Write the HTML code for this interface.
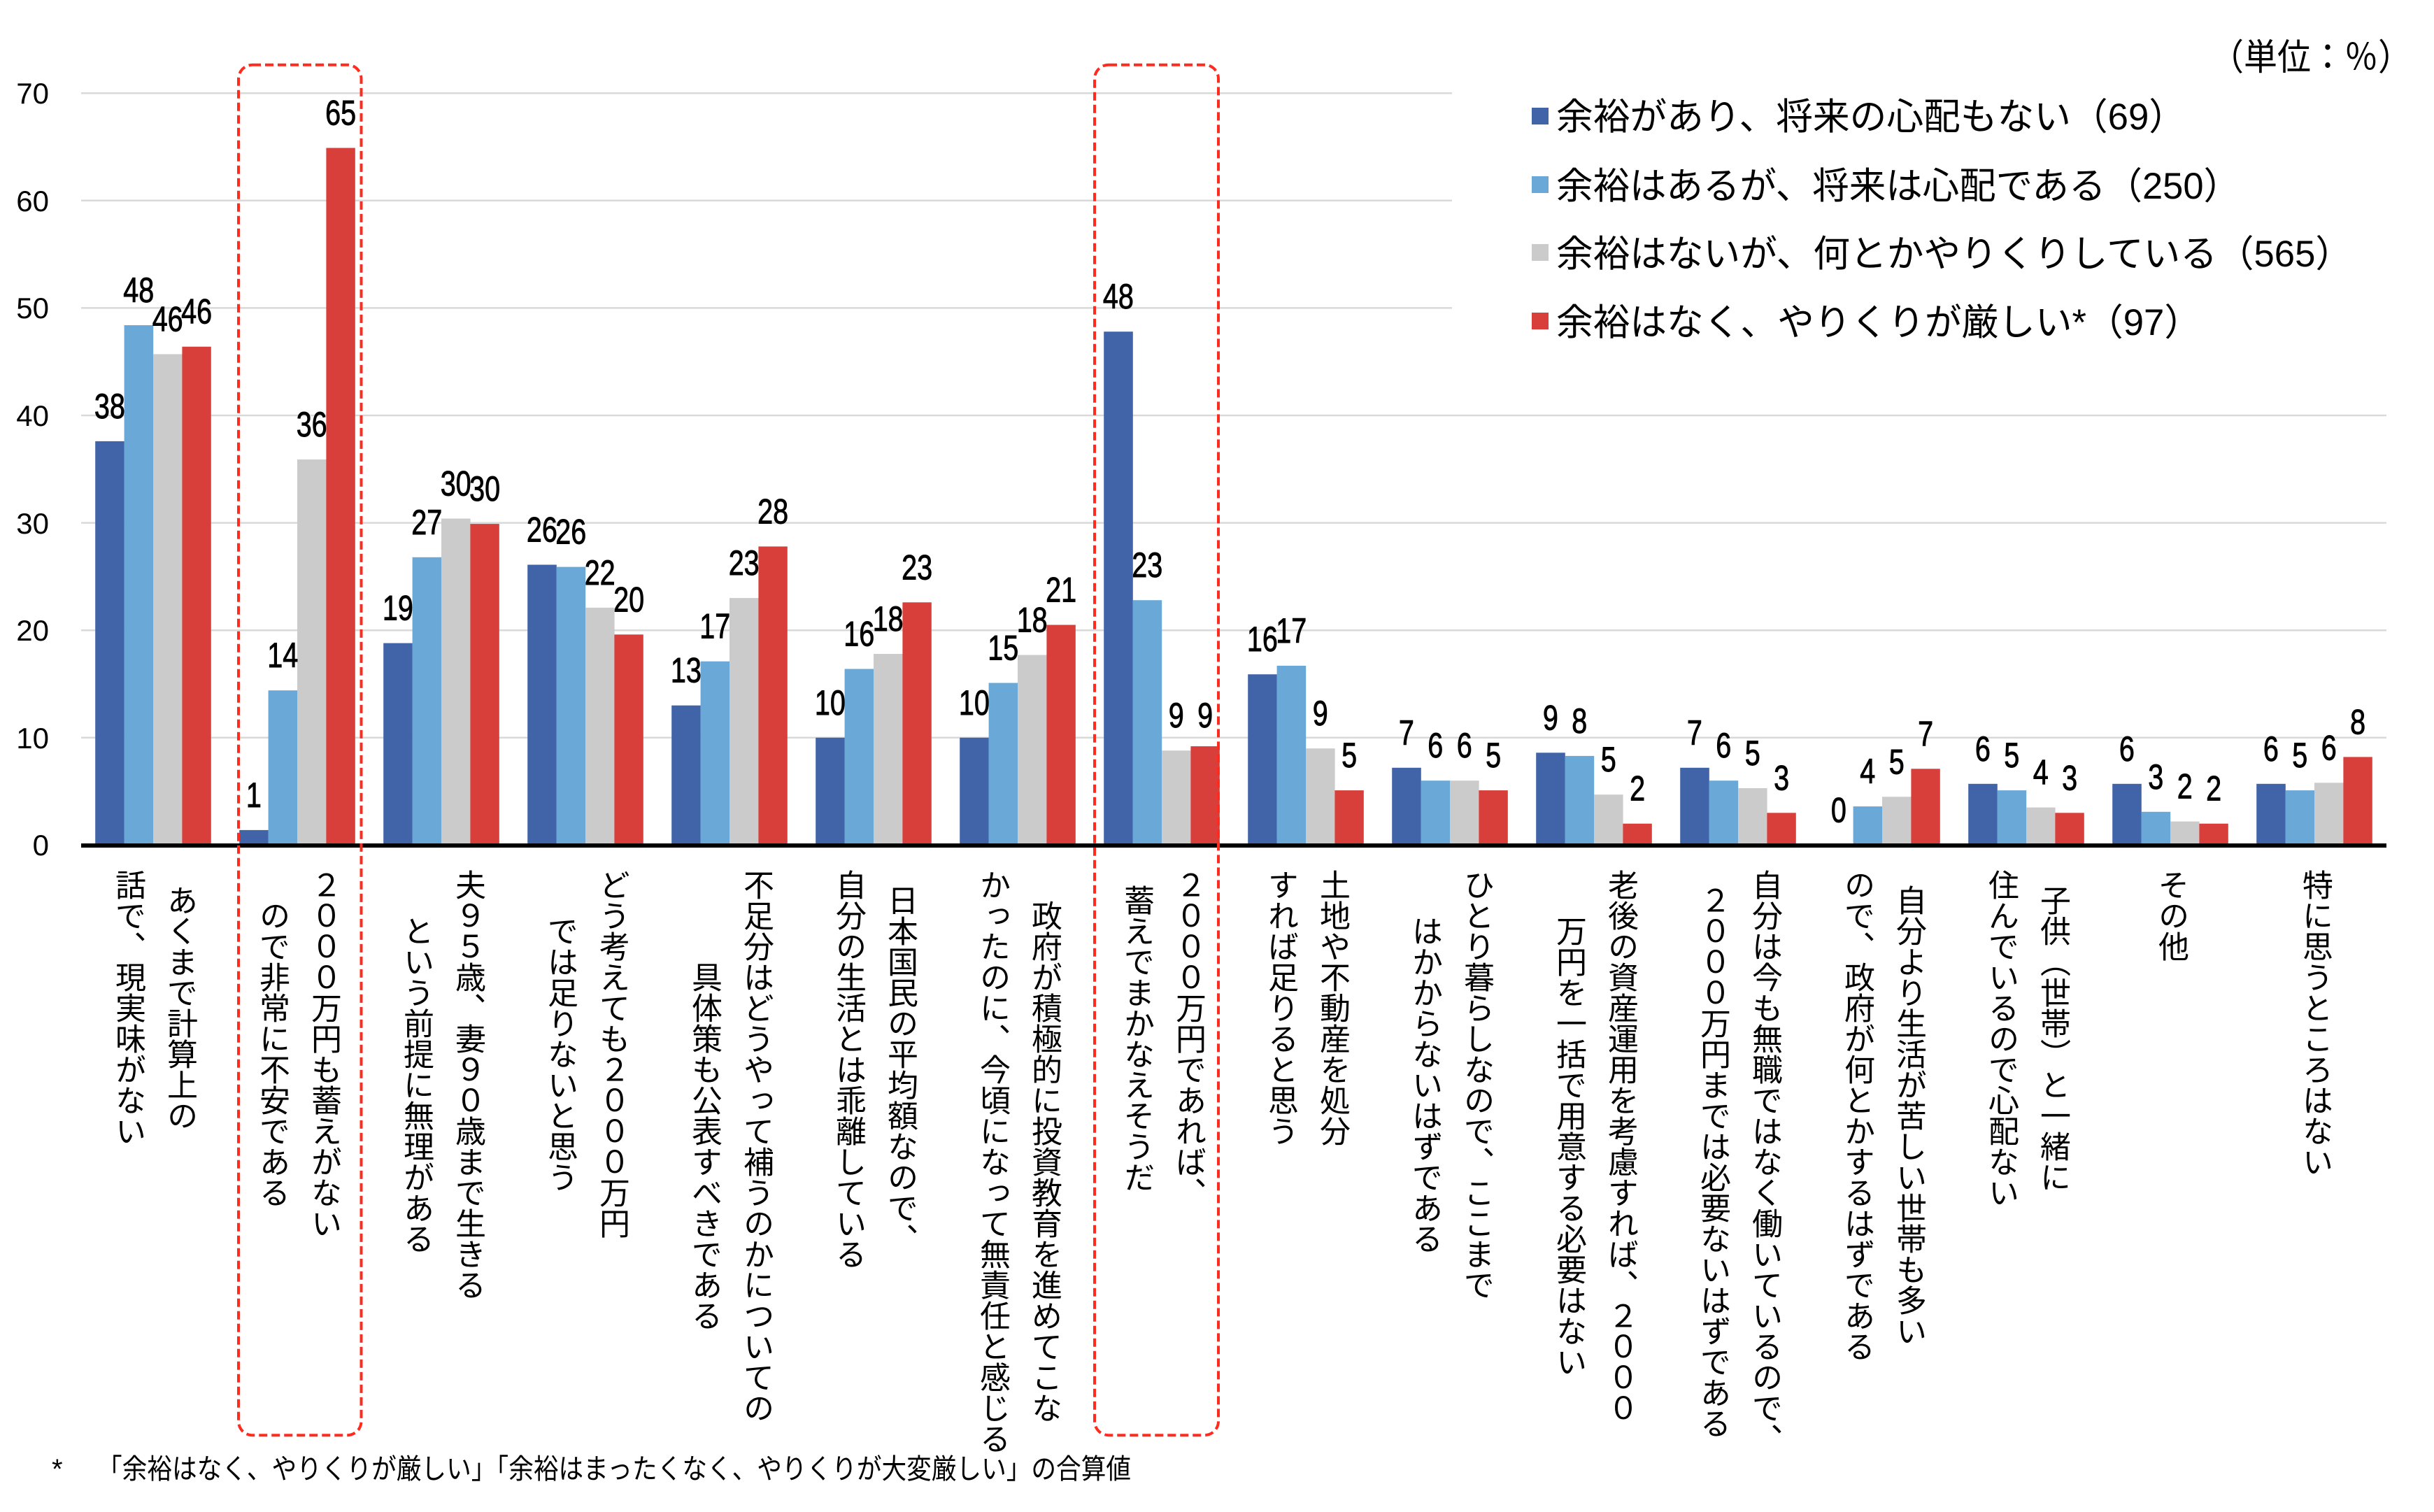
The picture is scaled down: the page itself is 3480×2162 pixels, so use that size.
<!DOCTYPE html>
<html><head><meta charset="utf-8">
<style>
html,body{margin:0;padding:0;background:#fff;}
#wrap{position:relative;width:3480px;height:2162px;overflow:hidden;background:#fff;}
svg{position:absolute;left:0;top:0;}
.v{position:absolute;writing-mode:vertical-rl;white-space:nowrap;font-family:"Liberation Sans","Noto Sans CJK JP",sans-serif;font-size:44px;line-height:44px;color:#000;}
.lb{font-family:"Liberation Sans","Noto Sans CJK JP",sans-serif;font-size:50px;fill:#000;stroke:#000;stroke-width:0.9px;}
.ax{font-family:"Liberation Sans","Noto Sans CJK JP",sans-serif;font-size:42px;fill:#000;}
.lg{font-family:"Liberation Sans","Noto Sans CJK JP",sans-serif;font-size:53px;fill:#000;}
</style></head><body><div id="wrap">
<svg width="3480" height="2162" viewBox="0 0 3480 2162" xmlns="http://www.w3.org/2000/svg">
<g stroke="#d9d9d9" stroke-width="2.5">
<line x1="116" y1="1054.8" x2="3412" y2="1054.8"/>
<line x1="116" y1="901.2" x2="3412" y2="901.2"/>
<line x1="116" y1="747.6" x2="3412" y2="747.6"/>
<line x1="116" y1="594.0" x2="3412" y2="594.0"/>
<line x1="116" y1="440.4" x2="2076" y2="440.4"/>
<line x1="116" y1="286.8" x2="2076" y2="286.8"/>
<line x1="116" y1="133.2" x2="2076" y2="133.2"/>
</g>
<g class="ax" text-anchor="end">
<text x="70" y="1223">0</text>
<text x="70" y="1070">10</text>
<text x="70" y="916">20</text>
<text x="70" y="763">30</text>
<text x="70" y="609">40</text>
<text x="70" y="455">50</text>
<text x="70" y="302">60</text>
<text x="70" y="148">70</text>
</g>
<!-- bars -->
<g fill="#4164A8">
<rect x="136.2" y="630.9" width="41.6" height="578"/>
<rect x="342.2" y="1186.9" width="41.6" height="22"/>
<rect x="548.2" y="919.6" width="41.6" height="289"/>
<rect x="754.2" y="807.5" width="41.6" height="401"/>
<rect x="960.2" y="1008.7" width="41.6" height="200"/>
<rect x="1166.2" y="1054.8" width="41.6" height="154"/>
<rect x="1372.2" y="1054.8" width="41.6" height="154"/>
<rect x="1578.2" y="474.2" width="41.6" height="735"/>
<rect x="1784.2" y="964.2" width="41.6" height="245"/>
<rect x="1990.2" y="1097.8" width="41.6" height="111"/>
<rect x="2196.2" y="1076.3" width="41.6" height="133"/>
<rect x="2402.2" y="1097.8" width="41.6" height="111"/>
<rect x="2814.2" y="1120.8" width="41.6" height="88"/>
<rect x="3020.2" y="1120.8" width="41.6" height="88"/>
<rect x="3226.2" y="1120.8" width="41.6" height="88"/>
</g>
<g fill="#69A8D7">
<rect x="177.6" y="465.0" width="41.6" height="744"/>
<rect x="383.6" y="987.2" width="41.6" height="222"/>
<rect x="589.6" y="796.8" width="41.6" height="412"/>
<rect x="795.6" y="810.6" width="41.6" height="398"/>
<rect x="1001.6" y="945.7" width="41.6" height="263"/>
<rect x="1207.6" y="956.5" width="41.6" height="252"/>
<rect x="1413.6" y="976.5" width="41.6" height="232"/>
<rect x="1619.6" y="858.2" width="41.6" height="351"/>
<rect x="1825.6" y="951.9" width="41.6" height="257"/>
<rect x="2031.6" y="1116.2" width="41.6" height="93"/>
<rect x="2237.6" y="1080.9" width="41.6" height="128"/>
<rect x="2443.6" y="1116.2" width="41.6" height="93"/>
<rect x="2649.6" y="1153.1" width="41.6" height="56"/>
<rect x="2855.6" y="1130.1" width="41.6" height="79"/>
<rect x="3061.6" y="1160.8" width="41.6" height="48"/>
<rect x="3267.6" y="1130.1" width="41.6" height="79"/>
</g>
<g fill="#CBCBCB">
<rect x="219.0" y="506.4" width="41.6" height="703"/>
<rect x="425.0" y="657.0" width="41.6" height="552"/>
<rect x="631.0" y="741.5" width="41.6" height="468"/>
<rect x="837.0" y="868.9" width="41.6" height="340"/>
<rect x="1043.0" y="855.1" width="41.6" height="354"/>
<rect x="1249.0" y="935.0" width="41.6" height="274"/>
<rect x="1455.0" y="936.5" width="41.6" height="273"/>
<rect x="1661.0" y="1073.2" width="41.6" height="136"/>
<rect x="1867.0" y="1070.2" width="41.6" height="139"/>
<rect x="2073.0" y="1116.2" width="41.6" height="93"/>
<rect x="2279.0" y="1136.2" width="41.6" height="73"/>
<rect x="2485.0" y="1127.0" width="41.6" height="82"/>
<rect x="2691.0" y="1139.3" width="41.6" height="70"/>
<rect x="2897.0" y="1154.6" width="41.6" height="55"/>
<rect x="3103.0" y="1174.6" width="41.6" height="35"/>
<rect x="3309.0" y="1119.3" width="41.6" height="90"/>
</g>
<g fill="#D93F3A">
<rect x="260.4" y="495.7" width="41.4" height="713"/>
<rect x="466.4" y="211.5" width="41.4" height="997"/>
<rect x="672.4" y="749.1" width="41.4" height="460"/>
<rect x="878.4" y="907.3" width="41.4" height="302"/>
<rect x="1084.4" y="781.4" width="41.4" height="428"/>
<rect x="1290.4" y="861.3" width="41.4" height="348"/>
<rect x="1496.4" y="893.5" width="41.4" height="316"/>
<rect x="1702.4" y="1067.1" width="41.4" height="142"/>
<rect x="1908.4" y="1130.1" width="41.4" height="79"/>
<rect x="2114.4" y="1130.1" width="41.4" height="79"/>
<rect x="2320.4" y="1177.7" width="41.4" height="31"/>
<rect x="2526.4" y="1162.3" width="41.4" height="47"/>
<rect x="2732.4" y="1099.3" width="41.4" height="110"/>
<rect x="2938.4" y="1162.3" width="41.4" height="47"/>
<rect x="3144.4" y="1177.7" width="41.4" height="31"/>
<rect x="3350.4" y="1082.4" width="41.4" height="127"/>
</g>
<rect x="116" y="1206" width="3296" height="6" fill="#000"/>
<!-- dashed boxes -->
<g fill="none" stroke="#FF2B1F" stroke-width="4" stroke-dasharray="12 6">
<rect x="341" y="92.7" width="175.5" height="1959.5" rx="20" ry="20"/>
<rect x="1565" y="92.7" width="177" height="1959.5" rx="20" ry="20"/>
</g>
<!-- data labels -->
<g class="lb" text-anchor="middle">
<text x="156.9" y="597.9" textLength="44" lengthAdjust="spacingAndGlyphs">38</text>
<text x="198.3" y="432.0" textLength="44" lengthAdjust="spacingAndGlyphs">48</text>
<text x="239.7" y="473.4" textLength="44" lengthAdjust="spacingAndGlyphs">46</text>
<text x="281.1" y="462.7" textLength="44" lengthAdjust="spacingAndGlyphs">46</text>
<text x="362.9" y="1153.9" textLength="22" lengthAdjust="spacingAndGlyphs">1</text>
<text x="404.3" y="954.2" textLength="44" lengthAdjust="spacingAndGlyphs">14</text>
<text x="445.7" y="624.0" textLength="44" lengthAdjust="spacingAndGlyphs">36</text>
<text x="487.1" y="178.5" textLength="44" lengthAdjust="spacingAndGlyphs">65</text>
<text x="568.9" y="886.6" textLength="44" lengthAdjust="spacingAndGlyphs">19</text>
<text x="610.3" y="763.8" textLength="44" lengthAdjust="spacingAndGlyphs">27</text>
<text x="651.7" y="708.5" textLength="44" lengthAdjust="spacingAndGlyphs">30</text>
<text x="693.1" y="716.1" textLength="44" lengthAdjust="spacingAndGlyphs">30</text>
<text x="774.9" y="774.5" textLength="44" lengthAdjust="spacingAndGlyphs">26</text>
<text x="816.3" y="777.6" textLength="44" lengthAdjust="spacingAndGlyphs">26</text>
<text x="857.7" y="835.9" textLength="44" lengthAdjust="spacingAndGlyphs">22</text>
<text x="899.1" y="874.3" textLength="44" lengthAdjust="spacingAndGlyphs">20</text>
<text x="980.9" y="975.7" textLength="44" lengthAdjust="spacingAndGlyphs">13</text>
<text x="1022.3" y="912.7" textLength="44" lengthAdjust="spacingAndGlyphs">17</text>
<text x="1063.7" y="822.1" textLength="44" lengthAdjust="spacingAndGlyphs">23</text>
<text x="1105.1" y="748.4" textLength="44" lengthAdjust="spacingAndGlyphs">28</text>
<text x="1186.9" y="1021.8" textLength="44" lengthAdjust="spacingAndGlyphs">10</text>
<text x="1228.3" y="923.5" textLength="44" lengthAdjust="spacingAndGlyphs">16</text>
<text x="1269.7" y="902.0" textLength="44" lengthAdjust="spacingAndGlyphs">18</text>
<text x="1311.1" y="828.3" textLength="44" lengthAdjust="spacingAndGlyphs">23</text>
<text x="1392.9" y="1021.8" textLength="44" lengthAdjust="spacingAndGlyphs">10</text>
<text x="1434.3" y="943.5" textLength="44" lengthAdjust="spacingAndGlyphs">15</text>
<text x="1475.7" y="903.5" textLength="44" lengthAdjust="spacingAndGlyphs">18</text>
<text x="1517.1" y="860.5" textLength="44" lengthAdjust="spacingAndGlyphs">21</text>
<text x="1598.9" y="441.2" textLength="44" lengthAdjust="spacingAndGlyphs">48</text>
<text x="1640.3" y="825.2" textLength="44" lengthAdjust="spacingAndGlyphs">23</text>
<text x="1681.7" y="1040.2" textLength="22" lengthAdjust="spacingAndGlyphs">9</text>
<text x="1723.1" y="1040.2" textLength="22" lengthAdjust="spacingAndGlyphs">9</text>
<text x="1804.9" y="931.2" textLength="44" lengthAdjust="spacingAndGlyphs">16</text>
<text x="1846.3" y="918.9" textLength="44" lengthAdjust="spacingAndGlyphs">17</text>
<text x="1887.7" y="1037.2" textLength="22" lengthAdjust="spacingAndGlyphs">9</text>
<text x="1929.1" y="1097.1" textLength="22" lengthAdjust="spacingAndGlyphs">5</text>
<text x="2010.9" y="1064.8" textLength="22" lengthAdjust="spacingAndGlyphs">7</text>
<text x="2052.3" y="1083.2" textLength="22" lengthAdjust="spacingAndGlyphs">6</text>
<text x="2093.7" y="1083.2" textLength="22" lengthAdjust="spacingAndGlyphs">6</text>
<text x="2135.1" y="1097.1" textLength="22" lengthAdjust="spacingAndGlyphs">5</text>
<text x="2216.9" y="1043.3" textLength="22" lengthAdjust="spacingAndGlyphs">9</text>
<text x="2258.3" y="1047.9" textLength="22" lengthAdjust="spacingAndGlyphs">8</text>
<text x="2299.7" y="1103.2" textLength="22" lengthAdjust="spacingAndGlyphs">5</text>
<text x="2341.1" y="1144.7" textLength="22" lengthAdjust="spacingAndGlyphs">2</text>
<text x="2422.9" y="1064.8" textLength="22" lengthAdjust="spacingAndGlyphs">7</text>
<text x="2464.3" y="1083.2" textLength="22" lengthAdjust="spacingAndGlyphs">6</text>
<text x="2505.7" y="1094.0" textLength="22" lengthAdjust="spacingAndGlyphs">5</text>
<text x="2547.1" y="1129.3" textLength="22" lengthAdjust="spacingAndGlyphs">3</text>
<text x="2628.9" y="1175.4" textLength="22" lengthAdjust="spacingAndGlyphs">0</text>
<text x="2670.3" y="1120.1" textLength="22" lengthAdjust="spacingAndGlyphs">4</text>
<text x="2711.7" y="1106.3" textLength="22" lengthAdjust="spacingAndGlyphs">5</text>
<text x="2753.1" y="1066.3" textLength="22" lengthAdjust="spacingAndGlyphs">7</text>
<text x="2834.9" y="1087.8" textLength="22" lengthAdjust="spacingAndGlyphs">6</text>
<text x="2876.3" y="1097.1" textLength="22" lengthAdjust="spacingAndGlyphs">5</text>
<text x="2917.7" y="1121.6" textLength="22" lengthAdjust="spacingAndGlyphs">4</text>
<text x="2959.1" y="1129.3" textLength="22" lengthAdjust="spacingAndGlyphs">3</text>
<text x="3040.9" y="1087.8" textLength="22" lengthAdjust="spacingAndGlyphs">6</text>
<text x="3082.3" y="1127.8" textLength="22" lengthAdjust="spacingAndGlyphs">3</text>
<text x="3123.7" y="1141.6" textLength="22" lengthAdjust="spacingAndGlyphs">2</text>
<text x="3165.1" y="1144.7" textLength="22" lengthAdjust="spacingAndGlyphs">2</text>
<text x="3246.9" y="1087.8" textLength="22" lengthAdjust="spacingAndGlyphs">6</text>
<text x="3288.3" y="1097.1" textLength="22" lengthAdjust="spacingAndGlyphs">5</text>
<text x="3329.7" y="1086.3" textLength="22" lengthAdjust="spacingAndGlyphs">6</text>
<text x="3371.1" y="1049.4" textLength="22" lengthAdjust="spacingAndGlyphs">8</text>
</g>
<!-- legend -->
<rect x="2190" y="154" width="24" height="24" fill="#4164A8"/>
<rect x="2190" y="252" width="24" height="24" fill="#69A8D7"/>
<rect x="2190" y="349" width="24" height="24" fill="#CBCBCB"/>
<rect x="2190" y="447" width="24" height="24" fill="#D93F3A"/>
<text class="lg" x="2225" y="185" textLength="900" lengthAdjust="spacingAndGlyphs">余裕があり、将来の心配もない（69）</text>
<text class="lg" x="2225" y="284" textLength="978" lengthAdjust="spacingAndGlyphs">余裕はあるが、将来は心配である（250）</text>
<text class="lg" x="2225" y="381" textLength="1138" lengthAdjust="spacingAndGlyphs">余裕はないが、何とかやりくりしている（565）</text>
<text class="lg" x="2225" y="479" textLength="922" lengthAdjust="spacingAndGlyphs">余裕はなく、やりくりが厳しい*（97）</text>
<text class="lg" style="font-size:52px" x="3160" y="100" textLength="288" lengthAdjust="spacingAndGlyphs">（単位：％）</text>
<!-- footnote -->
<text x="74" y="2114" style="font-family:'Liberation Sans',sans-serif;font-size:40px" fill="#000">*</text>
<text x="139" y="2114" style="font-family:'Liberation Sans','Noto Sans CJK JP',sans-serif;font-size:40px" fill="#000" textLength="1478" lengthAdjust="spacingAndGlyphs">「余裕はなく、やりくりが厳しい」「余裕はまったくなく、やりくりが大変厳しい」の合算値</text>
</svg>
<!-- category labels (vertical) -->
<div class="v" style="left:234px;top:1265px">あくまで計算上の</div>
<div class="v" style="left:160px;top:1243px">話で、現実味がない</div>
<div class="v" style="left:440px;top:1243px">２０００万円も蓄えがない</div>
<div class="v" style="left:366px;top:1287px">ので非常に不安である</div>
<div class="v" style="left:646px;top:1243px">夫９５歳、妻９０歳まで生きる</div>
<div class="v" style="left:572px;top:1309px">という前提に無理がある</div>
<div class="v" style="left:852px;top:1243px">どう考えても２０００万円</div>
<div class="v" style="left:778px;top:1309px">では足りないと思う</div>
<div class="v" style="left:1058px;top:1243px">不足分はどうやって補うのかについての</div>
<div class="v" style="left:984px;top:1375px">具体策も公表すべきである</div>
<div class="v" style="left:1264px;top:1265px">日本国民の平均額なので、</div>
<div class="v" style="left:1190px;top:1243px">自分の生活とは乖離している</div>
<div class="v" style="left:1470px;top:1287px">政府が積極的に投資教育を進めてこな</div>
<div class="v" style="left:1396px;top:1243px">かったのに、今頃になって無責任と感じる</div>
<div class="v" style="left:1676px;top:1243px">２０００万円であれば、</div>
<div class="v" style="left:1602px;top:1265px">蓄えでまかなえそうだ</div>
<div class="v" style="left:1882px;top:1243px">土地や不動産を処分</div>
<div class="v" style="left:1808px;top:1243px">すれば足りると思う</div>
<div class="v" style="left:2088px;top:1243px">ひとり暮らしなので、ここまで</div>
<div class="v" style="left:2014px;top:1309px">はかからないはずである</div>
<div class="v" style="left:2294px;top:1243px">老後の資産運用を考慮すれば、２０００</div>
<div class="v" style="left:2220px;top:1309px">万円を一括で用意する必要はない</div>
<div class="v" style="left:2500px;top:1243px">自分は今も無職ではなく働いているので、</div>
<div class="v" style="left:2426px;top:1265px">２０００万円までは必要ないはずである</div>
<div class="v" style="left:2706px;top:1265px">自分より生活が苦しい世帯も多い</div>
<div class="v" style="left:2632px;top:1243px">ので、政府が何とかするはずである</div>
<div class="v" style="left:2912px;top:1265px">子供（世帯）と一緒に</div>
<div class="v" style="left:2838px;top:1243px">住んでいるので心配ない</div>
<div class="v" style="left:3081px;top:1243px">その他</div>
<div class="v" style="left:3287px;top:1243px">特に思うところはない</div>
</div></body></html>
